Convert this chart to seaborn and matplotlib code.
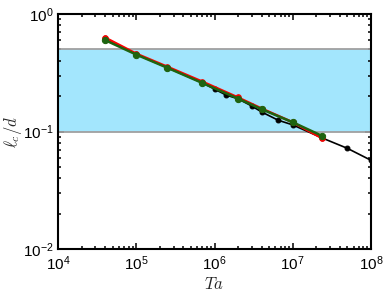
import numpy as np
import pandas as pd
import matplotlib
matplotlib.use("Agg")
import matplotlib.pyplot as plt
import matplotlib.ticker as mticker
import seaborn as sns

# values
black_ta = [4e4, 1e5, 2.5e5, 7e5, 1e6, 1.4e6, 2e6, 3e6, 4e6, 6.5e6, 1e7, 2.4e7, 5e7, 1e8]
black_lc = [0.62, 0.455, 0.35, 0.26, 0.23, 0.205, 0.19, 0.165, 0.147, 0.125, 0.114, 0.088, 0.072, 0.057]

red_ta = [4e4, 1e5, 2.5e5, 7e5, 2e6, 4e6, 1e7, 2.4e7]
red_lc = [0.63, 0.46, 0.356, 0.266, 0.195, 0.157, 0.12, 0.0875]

green_ta = [4e4, 1e5, 2.5e5, 7e5, 2e6, 4e6, 1e7, 2.4e7]
green_lc = [0.60, 0.452, 0.349, 0.259, 0.191, 0.155, 0.12, 0.0916]

band_lo, band_hi = 0.1, 0.5

sns.set_style("ticks")
plt.rcParams["font.family"] = ["Liberation Sans", "DejaVu Sans"]
plt.rcParams["mathtext.fontset"] = "cm"
plt.rcParams["xtick.direction"] = "in"
plt.rcParams["ytick.direction"] = "in"

fig = plt.figure(figsize=(3.9, 2.94), dpi=100)
ax = fig.add_axes([0.149, 0.153, 0.802, 0.799])

ax.axhspan(band_lo, band_hi, color="#a3e6fd", lw=0, zorder=0)
ax.axhline(band_lo, color="#a0a0a0", lw=1.3, zorder=1)
ax.axhline(band_hi, color="#a0a0a0", lw=1.3, zorder=1)

series = [
    ("black", black_ta, black_lc, "black", 1.2, 3.5),
    ("red", red_ta, red_lc, "#ff0000", 1.8, 4),
    ("green", green_ta, green_lc, "#1e6410", 1.8, 4.5),
]
for name, ta, lc, col, lw, ms in series:
    df = pd.DataFrame({"Ta": ta, "lc": lc})
    sns.lineplot(data=df, x="Ta", y="lc", color=col, lw=lw, marker="o",
                 markersize=ms, markeredgecolor=col, ax=ax, zorder=3)

ax.set_xscale("log")
ax.set_yscale("log")
ax.set_xlim(1e4, 1e8)
ax.set_ylim(1e-2, 1e0)

fmt = mticker.FuncFormatter(lambda v, p: r"$\mathregular{10^{%d}}$" % round(np.log10(v)))
ax.xaxis.set_major_formatter(fmt)
ax.yaxis.set_major_formatter(fmt)
ax.xaxis.set_major_locator(mticker.LogLocator(base=10, numticks=10))
ax.yaxis.set_major_locator(mticker.LogLocator(base=10, numticks=10))
ax.xaxis.set_minor_locator(mticker.LogLocator(base=10, subs=np.arange(2, 10), numticks=20))
ax.yaxis.set_minor_locator(mticker.LogLocator(base=10, subs=np.arange(2, 10), numticks=20))
ax.xaxis.set_minor_formatter(mticker.NullFormatter())
ax.yaxis.set_minor_formatter(mticker.NullFormatter())

ax.tick_params(which="both", top=True, right=True, direction="in", width=1.1, labelsize=11, colors="black")
ax.tick_params(which="major", length=4.5)
ax.tick_params(which="minor", length=2.5)
ax.tick_params(axis="x", which="major", pad=4)
ax.tick_params(axis="y", which="major", pad=3)
for s in ax.spines.values():
    s.set_linewidth(1.5)
    s.set_color("black")

ax.set_xlabel(r"$Ta$", fontsize=12)
ax.set_ylabel(r"$\ell_c/d$", fontsize=12)
ax.xaxis.set_label_coords(0.5, -0.115)
ax.yaxis.set_label_coords(-0.11, 0.5)

fig.savefig("out.png", dpi=100)
